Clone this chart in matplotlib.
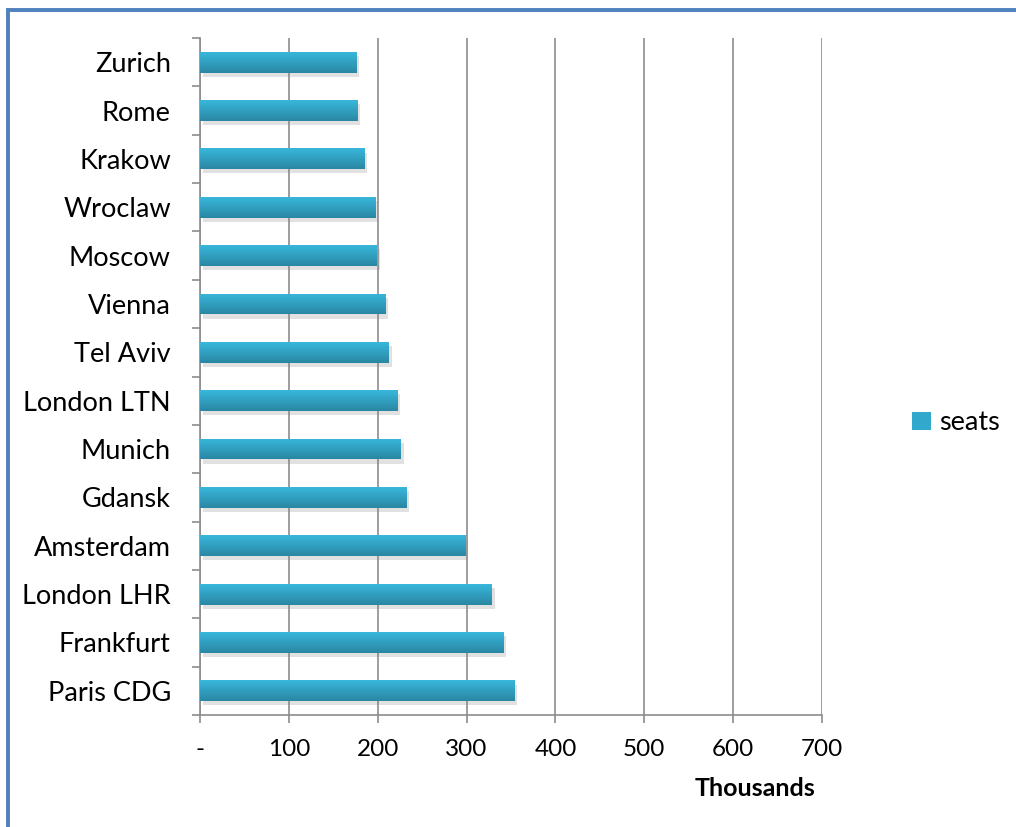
import numpy as np
import matplotlib
matplotlib.use("Agg")
import matplotlib.pyplot as plt
import matplotlib.patheffects as pe
from matplotlib.patches import Patch
from matplotlib.lines import Line2D

# seats per destination, in thousands (top to bottom as drawn)
cities = ["Zurich", "Rome", "Krakow", "Wroclaw", "Moscow", "Vienna", "Tel Aviv",
          "London LTN", "Munich", "Gdansk", "Amsterdam", "London LHR",
          "Frankfurt", "Paris CDG"]
seats = [176, 177, 185, 197, 199, 209, 212.5, 222.5, 226, 232.5, 299, 328.5, 341, 354]
xticks = [0, 100, 200, 300, 400, 500, 600, 700]
xticklabels = ["-", "100", "200", "300", "400", "500", "600", "700"]

plt.rcParams['font.family'] = ['Lato', 'DejaVu Sans']
grid_col = "#8c8c8c"

fig = plt.figure(figsize=(10.16, 8.27), dpi=100)
ax = fig.add_axes([200/1016, 1-715/827, 622/1016, 677/827])

n = len(cities)
ypos = np.arange(n)[::-1]   # Zurich at the top
bars = ax.barh(ypos, seats, height=0.43, color="#31a8cc", zorder=3,
               path_effects=[pe.SimplePatchShadow(offset=(2, -3), shadow_rgbFace="#888888", alpha=0.25),
                             pe.Normal()])

# vertical gradient in each bar, like the Excel style
grad = np.linspace(0, 1, 64).reshape(-1, 1)
cmap = matplotlib.colors.LinearSegmentedColormap.from_list("bar", ["#38b7db", "#2a87a3"])
for b in bars:
    x0, y0 = b.get_x(), b.get_y()
    im = ax.imshow(grad, cmap=cmap, aspect="auto", zorder=4,
                   extent=[x0, x0 + b.get_width(), y0, y0 + b.get_height()], origin="upper")
    im.set_clip_path(b)

ax.set_xlim(0, 700)
ax.set_ylim(-0.5, n - 0.5)

ax.set_xticks(xticks)
ax.set_xticklabels(xticklabels, fontsize=17.5)
ax.tick_params(axis="x", length=6, width=1.2, color=grid_col, pad=11)
ax.xaxis.grid(True, color=grid_col, lw=1.2, zorder=1)

ax.set_yticks(ypos)
ax.set_yticklabels(cities, fontsize=19.5)
ax.tick_params(axis="y", which="major", length=0, pad=21)
ax.set_yticks(np.arange(n + 1) - 0.5, minor=True)
ax.tick_params(axis="y", which="minor", length=6, width=1.2, color=grid_col)

for s in ["top", "right"]:
    ax.spines[s].set_visible(False)
for s in ["left", "bottom"]:
    ax.spines[s].set_color(grid_col)
    ax.spines[s].set_linewidth(1.2)

fig.text(755/1016, 1-788/827, "Thousands", fontsize=18, fontweight="bold",
         ha="center", va="center")

fig.legend(handles=[Patch(facecolor="#31a8cc", label="seats")], loc="center left",
           bbox_to_anchor=(912/1016, 1-423/827), frameon=False, fontsize=19.5,
           handlelength=0.7, handleheight=0.7, handletextpad=0.3,
           borderpad=0, borderaxespad=0)

# blue frame around the chart area (only left and top edges are visible)
fig.add_artist(Line2D([8/1016, 8/1016, 1.0], [0.0, 1-9.5/827, 1-9.5/827],
                      transform=fig.transFigure, color="#4f81bd", lw=2.8,
                      solid_joinstyle="miter"))

fig.savefig("out.png", dpi=100)
